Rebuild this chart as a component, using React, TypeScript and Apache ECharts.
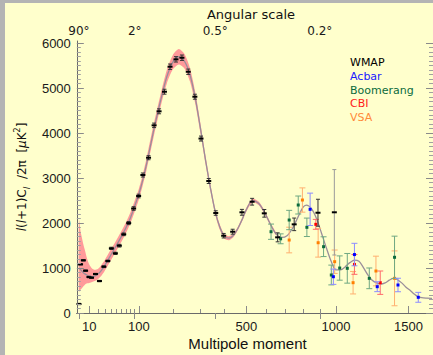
import React, { useEffect, useRef } from 'react';
import * as echarts from 'echarts';

// x axis is drawn in l^0.6 space (as in the original plot)
const POW = 0.6;
const X = (l: number) => Math.pow(l, POW);

// ---- tick labels ----
const bottomMajor = [10, 100, 500, 1000, 1500];
const bottomMinor = [20, 30, 40, 50, 60, 70, 80, 90, 200, 300, 400, 600, 700, 800, 900];
const angularL = [2, 90, 360, 900];
const angularLabels = ['90°', '2°', '0.5°', '0.2°'];
const yMajor = [0, 1000, 2000, 3000, 4000, 5000, 6000];
const yMinor = [100,200,300,400,500,600,700,800,900,1100,1200,1300,1400,1500,1600,1700,1800,1900,2100,2200,2300,2400,2500,2600,2700,2800,2900,3100,3200,3300,3400,3500,3600,3700,3800,3900,4100,4200,4300,4400,4500,4600,4700,4800,4900,5100,5200,5300,5400,5500,5600,5700,5800,5900];

// ---- theory curve ----
const curveL = [2,3,4,5,6,8,10,13,16,20,25,30,40,50,60,70,80,90,100,110,120,140,160,180,200,220,240,260,280,300,320,340,360,380,400,420,440,460,480,500,530,560,590,620,650,680,710,740,770,800,820,850,880,910,940,970,1000,1030,1060,1090,1120,1150,1180,1210,1240,1270,1300,1330,1360,1390,1420,1450,1480,1510,1540,1570,1600,1640,1680];
const curveV = [1000,960,920,890,870,840,820,810,820,860,950,1060,1290,1500,1700,1900,2120,2380,2640,2950,3300,4050,4700,5250,5580,5700,5600,5300,4780,4100,3400,2780,2250,1900,1700,1665,1730,1880,2080,2300,2500,2440,2240,1980,1760,1680,1720,1880,2120,2350,2400,2320,2100,1780,1450,1150,960,960,1030,1120,1175,1150,1010,850,730,670,645,670,730,770,740,670,580,510,430,365,340,330,325];

// ---- cosmic variance band ----
const bandL = [2,3,4,5,6,8,10,13,16,20,25,30,40,50,60,70,80,90,100,110,120,140,160,180,200,220,240,260,280,300,320,340,360,380,400,420,440,460,480,500,530,560,590,620,650];
const bandLo = [470,520,560,600,630,660,670,690,710,750,830,940,1170,1380,1580,1780,2000,2260,2520,2830,3170,3910,4560,5100,5420,5530,5440,5150,4650,3990,3310,2700,2180,1840,1650,1620,1690,1840,2040,2260,2460,2400,2200,1945,1730];
const bandHi = [2070,1800,1640,1500,1400,1200,1080,990,960,980,1070,1180,1410,1620,1820,2020,2240,2500,2760,3070,3430,4190,4840,5400,5740,5870,5760,5450,4910,4210,3490,2860,2320,1960,1750,1710,1770,1920,2120,2340,2540,2480,2280,2015,1790];

// ---- WMAP ----
const wmapL = [2,2.9,4.8,6.6,9.7,12.4,17,22.2,28.6,34.9,41,48.3,56,65,75.9,87.4,99.6,110.5,125.8,141.5,156.2,172.8,190.6,210.4,231,253.7,278.3,302,333,362,396,436,479,528,589,659,750,889,990];
const wmapV = [200,1083,1172,941,800,785,867,711,1030,1156,1438,1327,1497,1750,2000,2324,2602,3069,3454,4174,4486,4922,5478,5642,5678,5366,4811,3880,2936,2224,1719,1808,2240,2475,2217,1683,1972,2230,2240];
const wmapE = [15,15,15,15,15,15,15,15,20,20,25,25,30,30,35,40,40,45,45,50,55,55,60,60,60,60,55,55,55,50,50,55,65,75,85,100,140,300,950];

// ---- Acbar ----
const acbarL = [842, 984, 1120, 1275, 1423, 1574];
const acbarV = [2306, 807, 1300, 585, 623, 349];
const acbarE = [360, 170, 250, 110, 150, 110];

// ---- Boomerang ----
const boomL = [624, 675, 722, 773, 823, 923, 971, 1024, 1073, 1220, 1398];
const boomV = [1808, 1650, 2068, 2402, 1906, 1475, 845, 1000, 994, 771, 1239];
const boomE = [170, 110, 215, 200, 205, 220, 220, 270, 330, 230, 470];

// ---- CBI ----
const cbiL = [876, 1120, 1296];
const cbiV = [1972, 1080, 674];
const cbiE = [110, 220, 260];

// ---- VSA ----
const vsaL = [722, 797, 890, 992, 1111, 1266, 1398];
const vsaV = [1623, 2513, 1563, 1141, 674, 934, 771];
const vsaE = [285, 270, 320, 260, 250, 330, 610];

const legendNames = ['WMAP', 'Acbar', 'Boomerang', 'CBI', 'VSA'];
const legendColors = ['#000000', '#1a1aff', '#0b6b3c', '#ff1a1a', '#ff8a3a'];

const BG = '#FFFFCC';
const X_MIN = 1;
const X_MAX = 86.36;
const Y_MAX = 6050;

function nearestLabel(v: number, vals: number[], labels: string[]) {
  let bi = 0;
  let bd = Infinity;
  vals.forEach((l, i) => {
    const d = Math.abs(X(l) - v);
    if (d < bd) { bd = d; bi = i; }
  });
  return labels[bi];
}

function errSeries(name: string, L: number[], V: number[], E: number[], color: string, errColor: string, bigErrColor: string, wmap: boolean, z: number) {
  return {
    type: 'custom',
    name,
    z,
    clip: true,
    data: L.map((l, i) => [X(l), V[i], V[i] - E[i], V[i] + E[i]]),
    dimensions: ['x', 'v', 'lo', 'hi'],
    encode: { x: 0, y: [1, 2, 3] },
    renderItem: (_params: any, api: any) => {
      const xv = api.value(0);
      const p = api.coord([xv, api.value(1)]);
      const pl = api.coord([xv, api.value(2)]);
      const ph = api.coord([xv, api.value(3)]);
      const cap = wmap ? 2 : 3;
      const ec = pl[1] - ph[1] > 40 ? bigErrColor : errColor;
      const children: any[] = [
        { type: 'line', shape: { x1: p[0], y1: pl[1], x2: p[0], y2: ph[1] }, style: { stroke: ec, lineWidth: 1 } },
        { type: 'line', shape: { x1: p[0] - cap, y1: pl[1], x2: p[0] + cap, y2: pl[1] }, style: { stroke: ec, lineWidth: 1 } },
        { type: 'line', shape: { x1: p[0] - cap, y1: ph[1], x2: p[0] + cap, y2: ph[1] }, style: { stroke: ec, lineWidth: 1 } },
      ];
      if (wmap) {
        children.push({ type: 'line', shape: { x1: p[0] - 2.5, y1: p[1], x2: p[0] + 2.5, y2: p[1] }, style: { stroke: color, lineWidth: 2 } });
      } else {
        children.push({ type: 'rect', shape: { x: p[0] - 1.5, y: p[1] - 1.5, width: 3, height: 3 }, style: { fill: color } });
      }
      return { type: 'group', children };
    },
  };
}

const xBase = {
  type: 'value',
  min: X_MIN,
  max: X_MAX,
  z: 10,
  splitLine: { show: false },
};
const yBase = {
  type: 'value',
  min: 0,
  max: Y_MAX,
  z: 10,
  splitLine: { show: false },
};

export default function App() {
  const ref = useRef<HTMLDivElement>(null);
  useEffect(() => {
    const chart = echarts.init(ref.current!, null, { renderer: 'svg' });
    const option: any = {
      animation: false,
      backgroundColor: BG,
      grid: { left: 69.5, top: 38, right: 0, bottom: 42 },
      xAxis: [
        {
          ...xBase,
          position: 'bottom',
          axisLine: { show: true, lineStyle: { color: '#6a6a6a', width: 1 } },
          axisTick: { show: true, inside: true, length: 7, lineStyle: { color: '#8a8a8a' }, customValues: bottomMajor.map(X) },
          axisLabel: {
            show: true, customValues: bottomMajor.map(X), margin: 7,
            color: '#1a1a1a', fontFamily: 'Liberation Sans', fontSize: 13,
            formatter: (v: number) => nearestLabel(v, bottomMajor, bottomMajor.map(String)),
          },
        },
        {
          ...xBase,
          position: 'bottom',
          axisLine: { show: false },
          axisTick: { show: true, inside: true, length: 4, lineStyle: { color: '#8a8a8a' }, customValues: bottomMinor.map(X) },
          axisLabel: { show: false, customValues: bottomMinor.map(X) },
        },
        {
          ...xBase,
          position: 'top',
          axisLine: { show: true, lineStyle: { color: '#6a6a6a', width: 1 } },
          axisTick: { show: true, inside: true, length: 6, lineStyle: { color: '#8a8a8a' }, customValues: angularL.map(X) },
          axisLabel: {
            show: true, customValues: angularL.map(X), margin: 4,
            color: '#1a1a1a', fontFamily: 'DejaVu Sans', fontSize: 12,
            formatter: (v: number) => nearestLabel(v, angularL, angularLabels),
          },
        },
      ],
      yAxis: [
        {
          ...yBase,
          position: 'left',
          axisLine: { show: true, lineStyle: { color: '#6a6a6a', width: 1 } },
          axisTick: { show: true, inside: true, length: 7, lineStyle: { color: '#8a8a8a' }, customValues: yMajor },
          axisLabel: {
            show: true, customValues: yMajor, margin: 6, color: '#1a1a1a', fontFamily: 'Liberation Sans', fontSize: 13,
            formatter: (v: number) => String(v),
          },
          name: '{i|l}{n|(}{i|l}{n|+1)C}{s|l}{n|  /2π  [}{i|μ}{n|K}{p|2}{n|]}',
          nameLocation: 'middle',
          nameRotate: 90,
          nameGap: 40,
          nameTextStyle: {
            color: '#111', fontFamily: 'DejaVu Sans', fontSize: 12,
            rich: {
              n: { fontFamily: 'DejaVu Sans', fontSize: 12, color: '#111', lineHeight: 18, verticalAlign: 'middle' },
              i: { fontFamily: 'DejaVu Sans', fontSize: 12, fontStyle: 'italic', color: '#111', lineHeight: 18, verticalAlign: 'middle' },
              s: { fontFamily: 'DejaVu Sans', fontSize: 9, fontStyle: 'italic', color: '#111', lineHeight: 18, verticalAlign: 'bottom' },
              p: { fontFamily: 'DejaVu Sans', fontSize: 8, color: '#111', lineHeight: 18, verticalAlign: 'top' },
            },
          },
        },
        {
          ...yBase,
          position: 'left',
          axisLine: { show: false },
          axisTick: { show: true, inside: true, length: 4, lineStyle: { color: '#a0a0a0' }, customValues: yMinor },
          axisLabel: { show: false, customValues: yMinor },
        },
        {
          ...yBase,
          position: 'right',
          axisLine: { show: true, lineStyle: { color: '#6a6a6a', width: 1 } },
          axisTick: { show: true, inside: true, length: 7, lineStyle: { color: '#8a8a8a' }, customValues: yMajor },
          axisLabel: { show: false, customValues: yMajor },
        },
        {
          ...yBase,
          position: 'right',
          axisLine: { show: false },
          axisTick: { show: true, inside: true, length: 4, lineStyle: { color: '#a0a0a0' }, customValues: yMinor },
          axisLabel: { show: false, customValues: yMinor },
        },
      ],
      graphic: [
        ...legendNames.map((n, i) => ({
          type: 'text',
          x: 345,
          y: 59.5 + 13.8 * i,
          z: 100,
          style: { text: n, fill: legendColors[i], fontFamily: 'DejaVu Sans', fontSize: 11, verticalAlign: 'middle' },
        })),
        {
          type: 'text', x: 246, y: 11, z: 100,
          style: { text: 'Angular scale', fill: '#111', fontFamily: 'DejaVu Sans', fontSize: 13, align: 'center', verticalAlign: 'middle' },
        },
        {
          type: 'text', x: 242.5, y: 340.5, z: 100,
          style: { text: 'Multipole moment', fill: '#111', fontFamily: 'Liberation Sans', fontSize: 15, align: 'center', verticalAlign: 'middle' },
        },
      ],
      series: [
        {
          type: 'custom', name: 'band', z: 1, silent: true, clip: true,
          data: bandL.map((l, i) => [X(l), bandLo[i], bandHi[i]]),
          dimensions: ['x', 'lo', 'hi'],
          encode: { x: 0, y: [1, 2] },
          renderItem: (params: any, api: any) => {
            if (params.dataIndex !== 0) return { type: 'group', children: [] };
            const up = bandL.map((l, i) => api.coord([X(l), bandHi[i]]));
            const dn = bandL.map((l, i) => api.coord([X(l), bandLo[i]])).reverse();
            return {
              type: 'polygon',
              shape: { points: up.concat(dn), smooth: 0.25 },
              style: { fill: '#ff9a9a', stroke: 'none' },
            };
          },
        },
        {
          type: 'line', name: 'theory', z: 2, silent: true, symbol: 'none', smooth: 0.3,
          data: curveL.map((l, i) => [X(l), curveV[i]]),
          lineStyle: { color: '#9a8e9a', width: 1.3 },
        },
        errSeries('VSA', vsaL, vsaV, vsaE, '#ff8000', '#ffb070', '#ffb070', false, 3),
        errSeries('Boomerang', boomL, boomV, boomE, '#0b6b3c', '#6fa882', '#6fa882', false, 3),
        errSeries('CBI', cbiL, cbiV, cbiE, '#ff0000', '#ff6a6a', '#ff6a6a', false, 4),
        errSeries('Acbar', acbarL, acbarV, acbarE, '#0000ff', '#8c8cff', '#8c8cff', false, 4),
        errSeries('WMAP', wmapL, wmapV, wmapE, '#000000', '#333333', '#9a9a9a', true, 5),
      ],
    };
    chart.setOption(option);
    return () => chart.dispose();
  }, []);
  return (
    <div style={{ position: 'fixed', left: 0, top: 0, width: 433, height: 355, background: '#b4b4b4', overflow: 'hidden' }}>
      <div ref={ref} style={{ position: 'absolute', left: 5, top: 3, width: 428, height: 352, background: BG }} />
    </div>
  );
}
